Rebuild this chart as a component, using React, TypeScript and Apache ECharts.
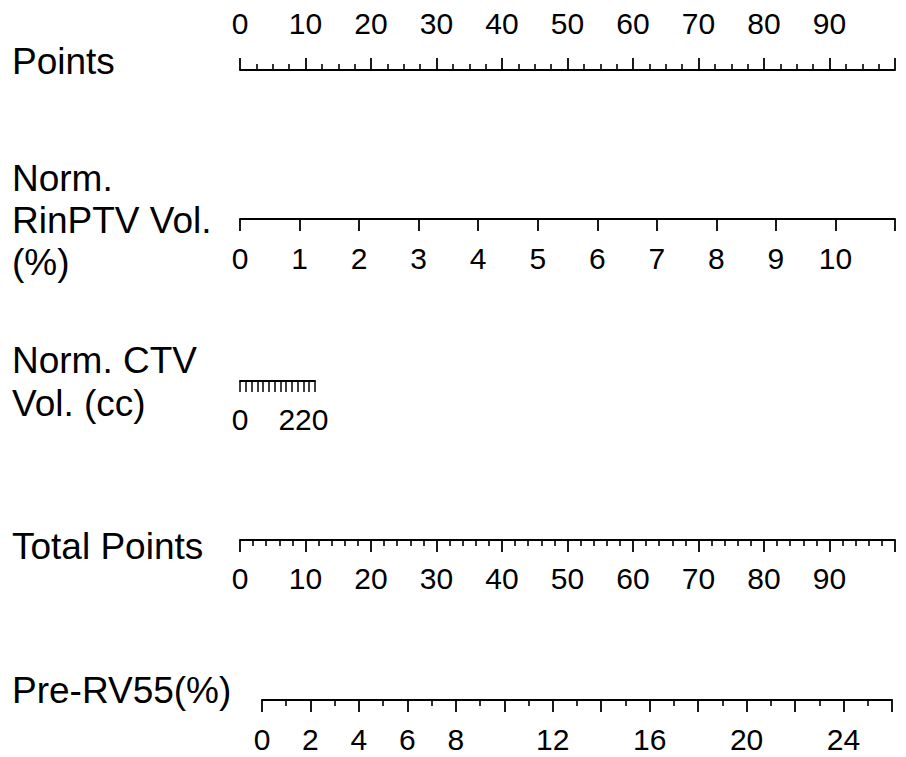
import React, { useEffect, useRef } from "react";
import * as echarts from "echarts";

// Axis titles (left column)
const titles: string[][] = [
  ["Points"],
  ["Norm.", "RinPTV Vol.", "(%)"],
  ["Norm. CTV", "Vol. (cc)"],
  ["Total Points"],
  ["Pre-RV55(%)"],
];

// Points scale
const pointsMin = 0;
const pointsMax = 100;
const pointsStep = 10;
const pointsLabels = [0, 10, 20, 30, 40, 50, 60, 70, 80, 90];

// Norm. RinPTV Vol. (%)
const rinMin = 0;
const rinMax = 11;
const rinStep = 1;
const rinLabels = [0, 1, 2, 3, 4, 5, 6, 7, 8, 9, 10];

// Norm. CTV Vol. (cc)
const ctvMin = 0;
const ctvMax = 260;
const ctvStep = 20;
const ctvLabels = [0, 220];

// Total Points
const totalMin = 0;
const totalMax = 100;
const totalStep = 10;
const totalLabels = [0, 10, 20, 30, 40, 50, 60, 70, 80, 90];

// Pre-RV55(%)
const rvMin = 0;
const rvMax = 26;
const rvStep = 2;
const rvLabels = [0, 2, 4, 6, 8, 12, 16, 20, 24];

const FONT = "'Liberation Sans', Arial, sans-serif";

export default function App() {
  const ref = useRef<HTMLDivElement>(null);
  useEffect(() => {
    if (!ref.current) return;
    const chart = echarts.init(ref.current, null, { renderer: "svg" });

    const lineW = 2;
    const mkAxis = (
      gridIndex: number,
      min: number,
      max: number,
      step: number,
      labels: number[],
      position: "top" | "bottom",
      margin: number,
      minorSplit: number
    ) => ({
      type: "value",
      gridIndex,
      min,
      max,
      interval: step,
      position,
      splitLine: { show: false },
      axisLine: { show: true, lineStyle: { color: "#000", width: lineW } },
      axisTick: { show: true, length: 12, lineStyle: { color: "#000", width: 1.8 } },
      minorTick: {
        show: minorSplit > 0,
        splitNumber: minorSplit > 0 ? minorSplit : 5,
        length: 6,
        lineStyle: { color: "#000", width: 1.6 },
      },
      axisLabel: {
        show: true,
        margin,
        color: "#000",
        fontSize: 30,
        fontFamily: FONT,
        showMinLabel: true,
        showMaxLabel: true,
        formatter: (v: number) => (labels.indexOf(Math.round(v * 1000) / 1000) >= 0 ? String(v) : ""),
      },
    });

    const W = 655;
    const grids = [
      { left: 240, width: W, top: 60, height: 10 },
      { left: 240, width: W, top: 219 - 10, height: 10 },
      { left: 240, width: 75, top: 381 - 10, height: 10 },
      { left: 240, width: W, top: 540 - 10, height: 10 },
      { left: 262, width: 630, top: 700 - 10, height: 10 },
    ].map((g) => ({ ...g, containLabel: false, outerBoundsMode: "none", show: false }));

    const xAxes = [
      mkAxis(0, pointsMin, pointsMax, pointsStep, pointsLabels, "top", 22, 4),
      mkAxis(1, rinMin, rinMax, rinStep, rinLabels, "bottom", 24, 0),
      { ...mkAxis(2, ctvMin, ctvMax, ctvStep, ctvLabels, "bottom", 23, 0), axisTick: { show: true, length: 11, lineStyle: { color: "#000", width: 1.5 } } },
      mkAxis(3, totalMin, totalMax, totalStep, totalLabels, "bottom", 23, 5),
      mkAxis(4, rvMin, rvMax, rvStep, rvLabels, "bottom", 24, 2),
    ];
    const yAxes = grids.map((_, i) => ({ type: "value", gridIndex: i, show: false, min: 0, max: 1 }));

    const titleY: number[][] = [[61], [178, 220, 262], [360, 403], [546], [690]];
    const graphic: any[] = [];
    titles.forEach((lines, i) => {
      lines.forEach((t, j) => {
        graphic.push({
          type: "text",
          left: 12,
          top: titleY[i][j] - 18.5,
          style: { text: t, fill: "#000", fontSize: 37, fontFamily: FONT, textVerticalAlign: "top" },
        });
      });
    });

    chart.setOption({
      animation: false,
      backgroundColor: "#fff",
      grid: grids,
      xAxis: xAxes,
      yAxis: yAxes,
      graphic,
      series: [],
    });
    return () => chart.dispose();
  }, []);
  return (
    <div
      ref={ref}
      style={{ position: "fixed", left: 0, top: 0, width: 906, height: 757, background: "#fff" }}
    />
  );
}
